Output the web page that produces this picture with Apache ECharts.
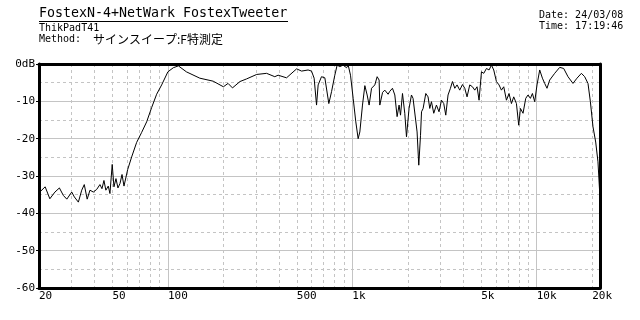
<!DOCTYPE html>
<html><head><meta charset="utf-8">
<script src="https://cdn.jsdelivr.net/npm/echarts@6/dist/echarts.min.js"></script>
<style>html,body{margin:0;padding:0;background:#fff}#c{width:640px;height:320px}</style>
</head><body><div id="c"></div>
<script>
// ---- data ----
const freqs = [20,20.5,21.6,22.9,24.4,25.8,27.1,28.3,30.1,31.1,32.7,34.1,35.2,36.5,37.8,39.4,41.1,42.8,43.9,45.0,46.1,47.5,48.5,49.9,51.0,52.3,53.6,55.0,56.4,57.8,59.2,60.5,63.6,67.7,72.1,76.7,81.6,86.9,92.5,100,107,114,126,149,176,200,212,224,246,267,303,343,380,396,440,499,531,576,601,621,640,653,681,710,746,772,804,828,856,892,931,950,978,1011,1045,1076,1099,1136,1170,1204,1234,1272,1325,1364,1398,1410,1460,1501,1564,1598,1652,1701,1750,1794,1826,1872,1926,1968,2032,2094,2136,2182,2246,2294,2344,2374,2422,2504,2576,2632,2688,2766,2860,2954,3046,3134,3214,3306,3406,3494,3596,3700,3826,3958,4074,4192,4336,4484,4616,4750,4870,5018,5164,5342,5518,5686,5850,6050,6250,6440,6628,6856,7082,7298,7508,7766,7992,8164,8434,8724,8974,9248,9482,9758,10042,10386,10742,11054,11378,11766,12524,13330,14012,14784,15734,16540,17480,18212,18978,19554,20200,20894,21500,22050];
const levels = [-34.5,-34.1,-32.9,-36.1,-34.3,-33.2,-35.2,-36.2,-34.3,-35.6,-37.0,-33.8,-32.3,-36.2,-33.8,-34.3,-33.6,-32.3,-33.4,-31.2,-33.8,-32.7,-34.7,-26.9,-32.9,-30.7,-33.2,-32.0,-29.6,-32.7,-32.3,-28.3,-24.9,-21.0,-18.3,-15.5,-11.7,-8.1,-5.6,-2.1,-1.0,-0.5,-2.1,-3.8,-4.6,-6.1,-5.2,-6.4,-4.7,-4.0,-2.8,-2.5,-3.4,-3.0,-3.7,-1.3,-1.9,-1.6,-1.9,-3.8,-11.0,-5.6,-3.4,-3.7,-10.6,-7.4,-3.0,-0.3,-0.7,-0.3,-1.0,-0.3,-3.0,-9.2,-15.5,-20.0,-18.2,-11.0,-5.8,-8.3,-11.0,-6.5,-5.6,-3.4,-4.3,-11.0,-7.6,-7.0,-8.1,-7.3,-6.5,-8.3,-14.1,-11.0,-13.7,-7.9,-13.2,-19.5,-11.9,-8.3,-9.2,-8.8,-18.2,-27.1,-19.1,-12.8,-11.9,-7.9,-8.8,-11.9,-10.1,-13.2,-11.0,-12.8,-9.7,-10.6,-13.7,-8.3,-6.5,-4.7,-6.5,-5.6,-7.0,-5.5,-6.5,-8.8,-5.6,-6.1,-7.0,-6.1,-9.7,-2.1,-2.5,-1.2,-1.6,-0.3,-1.6,-4.7,-5.6,-7.0,-6.1,-9.7,-7.9,-10.6,-8.8,-10.6,-16.4,-11.9,-13.2,-9.2,-8.3,-9.2,-7.9,-10.1,-5.6,-1.6,-3.8,-5.2,-6.5,-4.3,-2.5,-0.9,-1.2,-3.4,-5.2,-3.8,-2.5,-3.4,-5.2,-10.1,-16.8,-20.9,-26.2,-36.0];
const xLabelValues = [20,50,100,500,1000,5000,10000,20000];
const xLabelTexts = ['20','50','100','500','1k','5k','10k','20k'];
const xMajorGrid = [100,1000,10000];
const xMinorGrid = [30,40,50,60,70,80,90,200,300,400,500,600,700,800,900,2000,3000,4000,5000,6000,7000,8000,9000,20000];
const yTickValues = [0,-10,-20,-30,-40,-50,-60];
const yTickLabels = ['0dB','-10','-20','-30','-40','-50','-60'];
const titleText = 'FostexN-4+NetWark FostexTweeter';
const subText = 'ThikPadT41';
const methodLabel = 'Method:';
const methodText = 'サインスイープ:F特測定';
const dateText = 'Date: 24/03/08';
const timeText = 'Time: 17:19:46';

// ---- chart ----
const mono = "'DejaVu Sans Mono', monospace";
const chart = echarts.init(document.getElementById('c'), null, {renderer: 'canvas'});
const xFmt = v => { const i = xLabelValues.findIndex(a => Math.abs(a - v) / a < 1e-6); return i >= 0 ? xLabelTexts[i] : ''; };
const yFmt = v => { const i = yTickValues.findIndex(a => Math.abs(a - v) < 1e-6); return i >= 0 ? yTickLabels[i] : ''; };
const gridGray = '#c4c4c4';
chart.setOption({
  animation: false,
  backgroundColor: '#fff',
  grid: {left: 39, right: 40, top: 64, bottom: 32, outerBoundsMode: 'none', containLabel: false},
  xAxis: [
    {type: 'log', logBase: 10, min: 20, max: 22050, position: 'bottom',
     axisLine: {show: true, onZero: false, lineStyle: {color: '#000', width: 3}},
     axisTick: {show: false, customValues: xMajorGrid},
     axisLabel: {customValues: xLabelValues, formatter: xFmt, color: '#000', fontFamily: mono, fontSize: 11, margin: 3, align: 'left', hideOverlap: false},
     splitLine: {show: true, lineStyle: {color: gridGray, width: 1, type: 'solid'}}},
    {type: 'log', logBase: 10, min: 20, max: 22050, position: 'top',
     axisLine: {show: true, onZero: false, lineStyle: {color: '#000', width: 3}},
     axisTick: {show: false, customValues: xMinorGrid},
     axisLabel: {show: false},
     splitLine: {show: true, lineStyle: {color: gridGray, width: 1, type: [3, 3]}}}
  ],
  yAxis: [
    {type: 'value', min: -60, max: 0, interval: 10, position: 'left',
     axisLine: {show: true, onZero: false, lineStyle: {color: '#000', width: 3}},
     axisTick: {show: true, length: 3, lineStyle: {color: '#000'}},
     axisLabel: {formatter: yFmt, color: '#000', fontFamily: mono, fontSize: 11, margin: 4},
     splitLine: {show: true, lineStyle: {color: gridGray, width: 1}},
     minorTick: {show: false, splitNumber: 2},
     minorSplitLine: {show: true, lineStyle: {color: gridGray, width: 1, type: [3, 3]}}},
    {type: 'value', min: -60, max: 0, interval: 10, position: 'right',
     axisLine: {show: true, onZero: false, lineStyle: {color: '#000', width: 3}},
     axisTick: {show: false}, axisLabel: {show: false}, splitLine: {show: false}}
  ],
  series: [{
    type: 'line', xAxisIndex: 0, yAxisIndex: 0, showSymbol: false, symbol: 'none',
    data: freqs.map((f, i) => [f, levels[i]]),
    lineStyle: {color: '#000', width: 1}, clip: true, z: 3
  }],
  graphic: [
    {type: 'text', left: 39, top: 7, style: {text: titleText, font: "13.3px " + mono, fill: '#000'}},
    {type: 'line', shape: {x1: 39, y1: 21.5, x2: 288, y2: 21.5}, style: {stroke: '#000', lineWidth: 1}},
    {type: 'text', left: 39, top: 23.5, style: {text: subText, font: "10px " + mono, fill: '#000'}},
    {type: 'text', left: 39, top: 34, style: {text: methodLabel, font: "10px " + mono, fill: '#000'}},
    {type: 'text', left: 93, top: 33, style: {text: methodText, font: "12px 'Noto Sans CJK JP'", fill: '#000'}},
    {type: 'text', left: 539, top: 10.5, style: {text: dateText, font: "10px " + mono, fill: '#000'}},
    {type: 'text', left: 539, top: 21, style: {text: timeText, font: "10px " + mono, fill: '#000'}}
  ]
});
</script>
</body></html>
